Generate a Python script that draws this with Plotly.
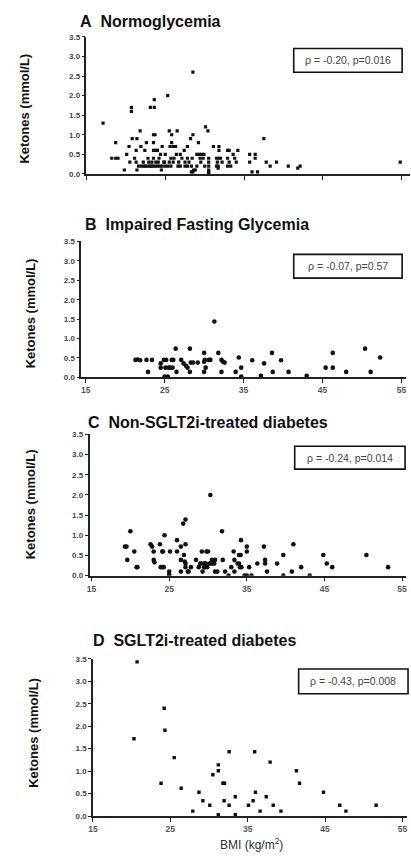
import plotly.graph_objects as go

# Figure fills the whole 411x859 window (body margin removed after drawing).
OFF = 0
W, H = 411, 859

# ---------------- data (BMI kg/m2, ketones mmol/L) ----------------
a_bmi = [17.1, 18.2, 18.7, 19.0, 18.7, 19.8, 20.1, 20.4, 20.5, 20.7, 20.7, 20.8, 21.4,
         21.1, 21.3, 21.3, 21.4, 21.8, 21.9, 22.2, 22.3, 22.4, 22.6, 22.8, 23.0,
         23.1, 23.6, 23.6, 23.5, 23.7, 23.5, 23.5, 23.8, 23.5, 23.3, 23.8,
         22.5, 22.8, 23.2, 23.4, 23.7, 24.0, 24.3, 24.6, 25.0,
         24.2, 24.6, 24.4, 25.0, 24.1, 24.8, 24.0,
         25.3, 25.5, 25.8, 26.5, 25.8, 26.0, 25.6, 26.3,
         26.4, 26.9, 25.7, 26.1, 25.5, 26.0, 26.7, 25.3, 25.7, 26.9, 27.5,
         27.4, 27.8, 28.2, 28.5, 28.5, 29.2, 29.3, 29.6, 29.9, 29.4, 29.8,
         27.8, 28.0, 28.4, 27.5, 27.8, 28.3, 28.3, 28.5, 28.6, 28.8, 29.0, 29.5,
         30.1, 30.4,
         30.5, 30.5, 30.5, 30.5, 30.5, 30.5,
         31.1, 31.8, 31.8, 31.5, 31.8, 32.0, 31.6, 32.2, 31.5, 31.7, 31.7,
         32.9, 33.1, 32.9, 33.1, 32.9, 33.3, 33.6,
         35.7, 36.4, 35.7, 36.4, 36.0, 36.7,
         37.5, 37.8, 38.3, 39.1, 40.6, 41.8, 42.1, 54.8,
         22.0, 22.9, 24.9, 27.1, 29.0, 30.0, 33.8, 34.0, 34.2, 21.6, 24.5, 26.6]
a_ket = [1.3, 0.4, 0.4, 0.4, 0.8, 0.1, 0.5, 0.7, 0.3, 1.7, 1.6, 0.9, 0.9,
         0.4, 0.3, 0.6, 0.1, 1.1, 0.7, 0.3, 0.2, 0.6, 0.8, 0.4, 0.2,
         1.7, 1.7, 1.9, 1.0, 1.0, 0.8, 0.6, 0.6, 0.4, 0.3, 0.3,
         0.2, 0.2, 0.2, 0.2, 0.2, 0.2, 0.2, 0.2, 0.2,
         0.4, 0.7, 0.5, 0.5, 0.3, 0.3, 0.6,
         2.0, 1.1, 1.0, 1.1, 0.8, 0.7, 0.7, 0.7,
         0.5, 0.5, 0.4, 0.4, 0.3, 0.3, 0.3, 0.2, 0.2, 0.2, 0.2,
         0.6, 0.7, 0.9, 1.0, 2.6, 0.8, 0.5, 0.5, 0.5, 0.4, 0.4,
         0.4, 0.3, 0.4, 0.3, 0.2, 0.2, 0.05, 0.05, 0.1, 0.1, 0.2, 0.3,
         1.2, 1.1,
         0.4, 0.3, 0.2, 0.1, 0.05, 0.0,
         0.7, 0.7, 0.6, 0.4, 0.4, 0.4, 0.3, 0.3, 0.2, 0.2, 0.15,
         0.6, 0.6, 0.4, 0.3, 0.2, 0.2, 0.5,
         0.5, 0.5, 0.3, 0.4, 0.05, 0.05,
         0.9, 0.3, 0.2, 0.3, 0.2, 0.15, 0.2, 0.3,
         0.2, 0.3, 0.3, 0.4, 0.5, 0.2, 0.4, 0.3, 0.6, 0.2, 0.1, 0.2]

b_bmi = [21.3, 21.6, 21.9, 22.7, 23.4, 22.9, 24.5, 24.5, 24.9, 25.2, 25.0, 25.4,
         25.1, 25.5, 25.9, 26.1, 25.7, 26.0, 26.4, 26.5, 27.1, 27.4, 27.7, 27.9,
         28.2, 28.2, 28.3, 28.6, 29.2, 30.0, 30.0, 30.1, 30.0, 30.2, 30.6, 30.8,
         31.3, 31.8, 32.2, 32.4, 32.6, 32.2, 34.0, 34.4, 34.7, 34.7,
         36.1, 37.2, 37.6, 38.6, 38.7, 39.75, 40.7, 43.0, 45.4, 46.3, 46.3,
         48.0, 50.4, 51.1, 52.3]
b_ket = [0.45, 0.46, 0.44, 0.45, 0.45, 0.14, 0.36, 0.25, 0.45, 0.45, 0.02, 0.02,
         0.25, 0.25, 0.45, 0.45, 0.25, 0.25, 0.74, 0.14, 0.45, 0.36, 0.3, 0.25,
         0.74, 0.14, 0.38, 0.38, 0.38, 0.63, 0.4, 0.45, 0.14, 0.25, 0.45, 0.45,
         1.44, 0.63, 0.45, 0.4, 0.38, 0.14, 0.14, 0.51, 0.25, 0.02,
         0.44, 0.04, 0.36, 0.63, 0.14, 0.44, 0.14, 0.04, 0.25, 0.25, 0.63,
         0.14, 0.74, 0.14, 0.51]

c_bmi = [19.3, 19.5, 19.6, 20.0, 20.5, 20.8, 20.9, 22.6, 22.8, 23.0, 23.1, 23.0,
         23.8, 23.9, 24.1, 24.3, 24.1, 24.2, 24.4, 25.0, 25.0, 25.1, 26.0, 26.0,
         26.5, 26.5, 26.5, 26.8, 27.1, 26.9, 27.1, 27.0, 27.1, 27.1, 27.4, 27.5,
         27.8, 28.45, 28.8, 29.0, 29.1, 29.2, 29.3, 29.5, 29.6, 29.7, 29.5, 29.6,
         29.9, 29.8, 30.0, 30.3, 30.2, 30.4, 30.5, 30.9, 30.6, 30.8, 30.9, 31.2,
         31.8, 31.9, 32.2, 32.65, 33.0, 33.3, 33.4, 33.4, 33.8, 34.0, 34.25, 34.0,
         34.2, 34.1, 34.3, 34.7, 35.0, 35.0, 35.0, 35.3, 35.6, 36.35, 37.2, 37.35,
         37.35, 37.6, 38.9, 39.7, 39.7, 40.8, 41.0, 42.0, 43.1, 44.85, 45.3, 46.0,
         50.4, 53.2]
c_ket = [0.72, 0.72, 0.39, 1.1, 0.6, 0.21, 0.21, 0.78, 0.72, 0.39, 0.33, 0.6,
         0.78, 0.21, 0.21, 0.21, 0.6, 0.6, 1.0, 0.1, 0.03, 0.6, 0.88, 0.6,
         0.72, 0.39, 0.1, 1.29, 1.39, 0.51, 0.78, 0.35, 0.3, 0.21, 0.1, 0.1,
         0.21, 0.39, 0.21, 0.3, 0.3, 0.6, 0.1, 0.3, 0.3, 0.3, 0.21, 0.21,
         0.21, 0.6, 0.6, 2.0, 0.3, 0.3, 0.39, 0.39, 0.3, 0.3, 0.1, 0.1,
         1.1, 0.39, 0.1, 0.0, 0.21, 0.6, 0.39, 0.1, 0.3, 0.3, 0.88, 0.51,
         0.51, 0.21, 0.21, 0.0, 0.0, 0.72, 0.6, 0.21, 0.0, 0.3, 0.72, 0.39,
         0.3, 0.1, 0.3, 0.51, 0.0, 0.1, 0.78, 0.21, 0.0, 0.51, 0.3, 0.21,
         0.51, 0.21]

d_bmi = [20.7, 20.3, 24.2, 24.3, 23.8, 25.5, 26.4, 27.9, 28.7, 29.2, 30.1, 30.5,
         31.2, 31.2, 31.2, 31.8, 32.0, 31.95, 32.6, 32.6, 33.4, 33.4, 35.1, 35.7,
         35.9, 36.0, 36.6, 37.4, 37.9, 38.3, 39.3, 41.3, 41.7, 44.8, 46.9, 47.7, 51.6]
d_ket = [3.43, 1.72, 2.4, 1.91, 0.73, 1.3, 0.62, 0.11, 0.53, 0.34, 0.24, 0.92,
         1.14, 1.01, 0.03, 0.73, 0.73, 0.34, 1.43, 0.24, 0.43, 0.03, 0.24, 0.34,
         1.43, 0.53, 0.11, 0.43, 1.2, 0.24, 0.11, 1.01, 0.73, 0.53, 0.24, 0.11, 0.24]

y_ticks = [0.0, 0.5, 1.0, 1.5, 2.0, 2.5, 3.0, 3.5]
y_tick_text = ["0.0", "0.5", "1.0", "1.5", "2.0", "2.5", "3.0", "3.5"]
x_ticks = [15, 25, 35, 45, 55]

panel_letters = ["A", "B", "C", "D"]
panel_titles = ["Normoglycemia", "Impaired Fasting Glycemia",
                "Non-SGLT2i-treated diabetes", "SGLT2i-treated diabetes"]
stats_text = ["ρ = -0.20, p=0.016", "ρ = -0.07, p=0.57",
              "ρ = -0.24, p=0.014", "ρ = -0.43, p=0.008"]
y_title = "Ketones (mmol/L)"
x_title = "BMI (kg/m<sup>2</sup>)"

# ---------------- layout geometry (window pixels) ----------------
panels = [
    dict(x=a_bmi, y=a_ket, sym="square", size=3.2, px=(82.7, 410.7), xr=(15, 56),
         py=(33.3, 171.7), showx=False, title=(74, 18), ytitle=(20, 106),
         box=(293, 403, 45, 69)),
    dict(x=b_bmi, y=b_ket, sym="circle", size=4.6, px=(77.5, 407.1), xr=(14.45, 55.6),
         py=(240, 377.3), showx=True, title=(79, 223), ytitle=(26, 313),
         box=(293, 403, 253, 277)),
    dict(x=c_bmi, y=c_ket, sym="circle", size=4.6, px=(85.9, 406.9), xr=(14.75, 55.5),
         py=(435, 577.7), showx=True, title=(82, 423), ytitle=(26, 506),
         box=(294, 406, 447, 470)),
    dict(x=d_bmi, y=d_ket, sym="square", size=3.4, px=(89.3, 408), xr=(15, 55.6),
         py=(661.7, 820.7), showx=True, title=(87, 643), ytitle=(29, 737),
         box=(298, 409, 672, 697)),
]


def fx(px):
    return (px - OFF) / W


def fy(py):
    return 1 - (py - OFF) / H


fig = go.Figure()
FONT = "Liberation Sans, Arial, sans-serif"
annotations = []
shapes = []

for i, p in enumerate(panels):
    n = "" if i == 0 else str(i + 1)
    xa, ya = "xaxis" + n, "yaxis" + n
    fig.add_trace(go.Scatter(
        x=p["x"], y=p["y"], mode="markers", xaxis="x" + n, yaxis="y" + n,
        marker=dict(symbol=p["sym"], size=p["size"], color="#111111",
                    line=dict(width=0)),
        showlegend=False, hoverinfo="x+y"))
    fig.layout[xa] = dict(
        domain=[fx(p["px"][0]), min(1.0, fx(p["px"][1]))], range=list(p["xr"]),
        anchor="y" + n, tickvals=x_ticks, ticks="outside", ticklen=4,
        tickwidth=1.2, tickcolor="#222", showline=True, linecolor="#222",
        linewidth=1.6, showgrid=False, zeroline=False,
        showticklabels=p["showx"], ticklabeloverflow="allow",
        tickfont=dict(family=FONT, size=8.5, color="#555", weight="bold"))
    fig.layout[ya] = dict(
        domain=[fy(p["py"][1]), fy(p["py"][0])], range=[0, 3.5],
        anchor="x" + n, tickvals=y_ticks, ticktext=y_tick_text,
        ticks="outside", ticklen=3, tickwidth=1.2, tickcolor="#222",
        showline=True, linecolor="#222", linewidth=1.6, showgrid=False,
        zeroline=False,
        tickfont=dict(family=FONT, size=8, color="#444", weight="bold"))
    # panel title (letter, wide gap, name)
    annotations.append(dict(
        text="<b>" + panel_letters[i] + "&nbsp;&nbsp;" + panel_titles[i] + "</b>",
        xref="paper", yref="paper",
        x=fx(p["title"][0]), y=fy(p["title"][1]), xanchor="left",
        yanchor="middle", showarrow=False,
        font=dict(family=FONT, size=16, color="#111")))
    # y title
    annotations.append(dict(
        text="<b>" + y_title + "</b>", xref="paper", yref="paper",
        x=fx(p["ytitle"][0]), y=fy(p["ytitle"][1]), xanchor="center",
        yanchor="middle", textangle=-90, showarrow=False,
        font=dict(family=FONT, size=13, color="#111")))
    # stats box
    bx0, bx1, by0, by1 = p["box"]
    shapes.append(dict(type="rect", xref="paper", yref="paper",
                       x0=fx(bx0), x1=fx(min(bx1, 409.5)), y0=fy(by1), y1=fy(by0),
                       line=dict(color="#111", width=1.6), fillcolor="white"))
    annotations.append(dict(
        text=stats_text[i], xref="paper", yref="paper",
        x=fx((bx0 + bx1) / 2), y=fy((by0 + by1) / 2), xanchor="center",
        yanchor="middle", showarrow=False,
        font=dict(family=FONT, size=10.5, color="#444")))

annotations.append(dict(
    text=x_title, xref="paper", yref="paper", x=fx(250), y=fy(849),
    xanchor="center", yanchor="middle", showarrow=False,
    font=dict(family=FONT, size=12, color="#333")))

fig.update_layout(
    width=W, height=H, autosize=False,
    margin=dict(l=0, r=0, t=0, b=0, pad=0),
    paper_bgcolor="white", plot_bgcolor="white",
    annotations=annotations, shapes=shapes,
)

# remove the page's default body margin and scrollbars so the figure
# occupies the window exactly; hide the interactive toolbar
fig.write_html(
    "out.html",
    config={"displayModeBar": False},
    post_script=("document.body.style.margin='0';"
                 "document.documentElement.style.overflow='hidden';"
                 "document.body.style.overflow='hidden';"),
)
